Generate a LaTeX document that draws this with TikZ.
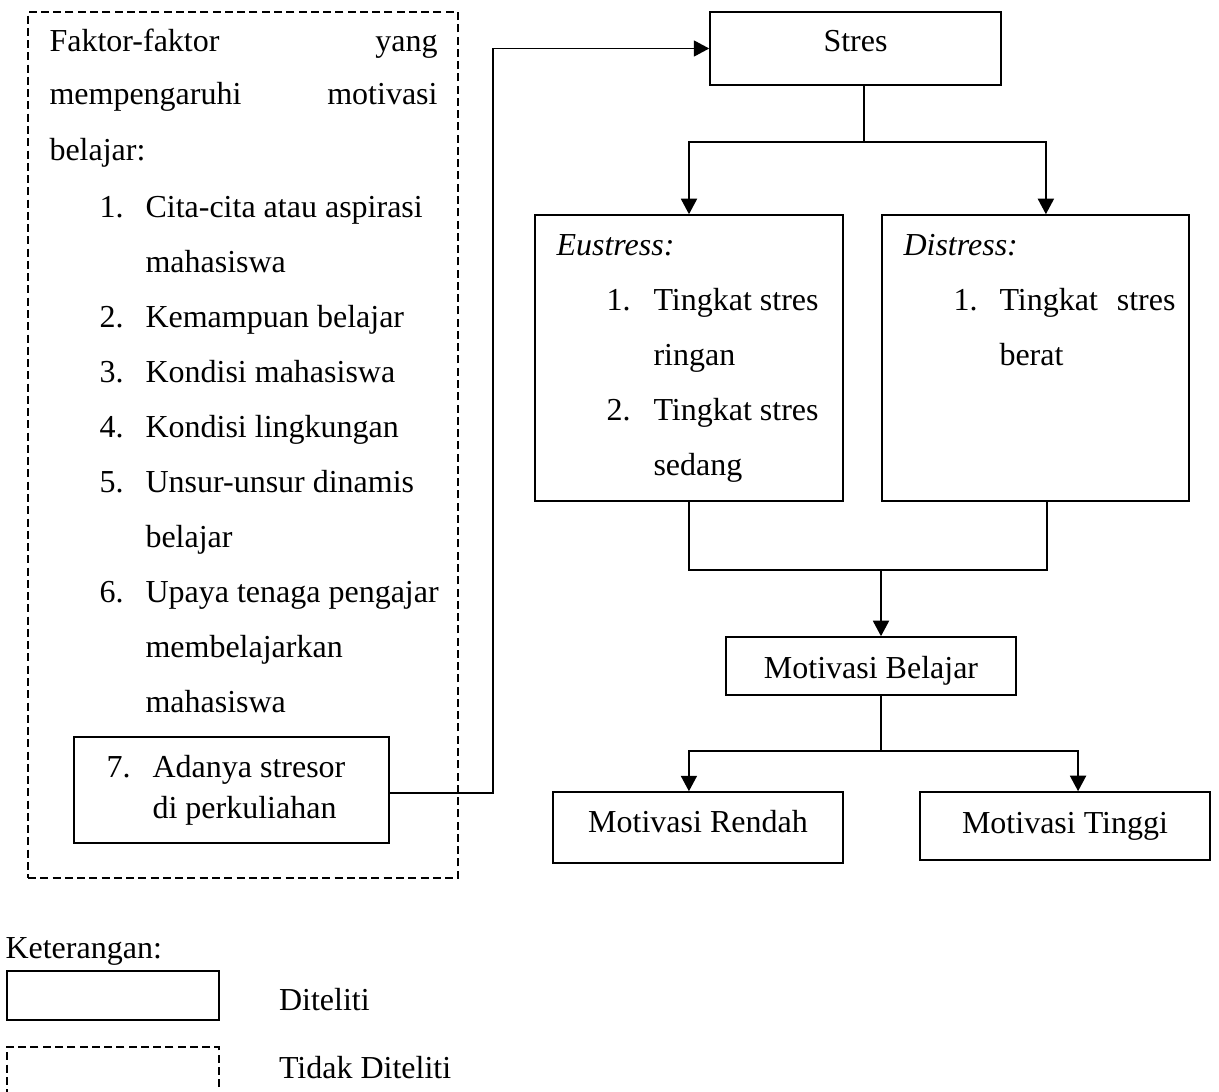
\documentclass[tikz,border=0pt]{standalone}
\usepackage{fontspec}
\setmainfont{Liberation Serif}
\usetikzlibrary{arrows.meta, positioning}

\begin{document}
\begin{tikzpicture}[
    x=0.375pt, y=-0.375pt,
    font=\fontsize{12}{14.4}\selectfont,
    kotak/.style={draw, line width=0.6pt, inner sep=0pt, text height=10pt},
    putus/.style={draw, line width=0.6pt, dash pattern=on 3pt off 1.6pt,
        inner sep=0pt},
    teks/.style={anchor=base west, inner sep=0pt},
    garis/.style={line width=0.6pt},
    panah/.style={line width=0.7pt, -{Triangle[length=5.8pt, width=6pt]}},
]
\useasboundingbox (0,0) rectangle (1219,1092);

% Faktor-faktor (tidak diteliti)
\node[putus, minimum width=161.25pt, minimum height=324.75pt] (faktor) at (243,445) {};
\node[teks] (judul1) at (49,51) {\makebox[145.5pt][s]{Faktor-faktor yang}};
\node[teks] (judul2) at (49,105) {\makebox[145.5pt][s]{mempengaruhi motivasi}};
\node[teks] (judul3) at (49,160) {belajar:};

\foreach \y/\n/\txt [count=\i] in {%
    217/1./Cita-cita atau aspirasi,
    272//mahasiswa,
    327/2./Kemampuan belajar,
    382/3./Kondisi mahasiswa,
    437/4./Kondisi lingkungan,
    492/5./Unsur-unsur dinamis,
    547//belajar,
    602/6./Upaya tenaga pengajar,
    657//membelajarkan,
    712//mahasiswa%
}{
    \node[teks] (no\i) at (99,\y) {\n};
    \node[teks] (isi\i) at (145,\y) {\txt};
}

% Faktor 7 (diteliti)
\node[kotak, minimum width=118.1pt, minimum height=39.75pt] (stresor) at (231.5,790) {};
\node[teks] (no7) at (106,777) {7.};
\node[teks] (isi7a) at (152,777) {Adanya stresor};
\node[teks] (isi7b) at (152,818) {di perkuliahan};

% Stres
\node[kotak, minimum width=109.1pt, minimum height=27.4pt, text depth=7.4pt]
    (stres) at (855.5,48.5) {Stres};
\coordinate (belok) at (493,48.5);
\draw[panah] ([yshift=-1pt]stresor.east) -| (belok) -- (stres.west);

% Eustress dan distress
\node[kotak, minimum width=115.5pt, minimum height=107.25pt] (eustress) at (689,358) {};
\node[kotak, minimum width=115.1pt, minimum height=107.25pt] (distress) at (1035.5,358) {};

\node[teks] (eu0) at (556,255) {\textit{Eustress:}};
\node[teks] (eun1) at (606,310) {1.};
\node[teks] (eu1) at (653,310) {Tingkat stres};
\node[teks] (eu2) at (653,365) {ringan};
\node[teks] (eun2) at (606,420) {2.};
\node[teks] (eu3) at (653,420) {Tingkat stres};
\node[teks] (eu4) at (653,475) {sedang};

\node[teks] (di0) at (903,255) {\textit{Distress:}};
\node[teks] (din1) at (953,310) {1.};
\node[teks] (di1) at (999,310) {\makebox[66pt][s]{Tingkat stres}};
\node[teks] (di2) at (999,365) {berat};

\coordinate (cabang1) at (864,142);
\draw[garis] (stres.south -| cabang1) -- (cabang1);
\draw[panah] (cabang1) -| (eustress.north);
\draw[panah] (cabang1) -| ([xshift=3.9pt]distress.north);

% Motivasi belajar
\node[kotak, minimum width=108.75pt, minimum height=21.75pt, text depth=1pt]
    (motivasi) at (871,666) {Motivasi Belajar};
\coordinate (gabung) at (881,570);
\draw[garis] (eustress.south) |- (gabung) -| ([xshift=4.3pt]distress.south);
\draw[panah] (gabung) -- (gabung |- motivasi.north);

\node[kotak, minimum width=108.75pt, minimum height=26.6pt, text depth=5.9pt]
    (rendah) at (698,827.5) {Motivasi Rendah};
\node[kotak, minimum width=108.75pt, minimum height=25.5pt, text depth=4.75pt]
    (tinggi) at (1065,826) {Motivasi Tinggi};
\coordinate (cabang2) at (881,751);
\draw[garis] (motivasi.south -| cabang2) -- (cabang2);
\draw[panah] (cabang2) -| ([xshift=-3.4pt]rendah.north);
\draw[panah] (cabang2) -| ([xshift=4.9pt]tinggi.north);

% Keterangan
\node[teks] (ket) at (5,958) {Keterangan:};
\node[kotak, minimum width=79.5pt, minimum height=18.4pt] (leg1) at (113,995.5) {};
\node[putus, minimum width=79.5pt, minimum height=18.4pt] (leg2) at (113,1071.5) {};
\node[inner sep=0pt, right=22pt of leg1, yshift=-1.5pt] (legteks1) {Diteliti};
\node[inner sep=0pt, right=22pt of leg2, yshift=1.5pt] (legteks2) {Tidak Diteliti};

\end{tikzpicture}
\end{document}
